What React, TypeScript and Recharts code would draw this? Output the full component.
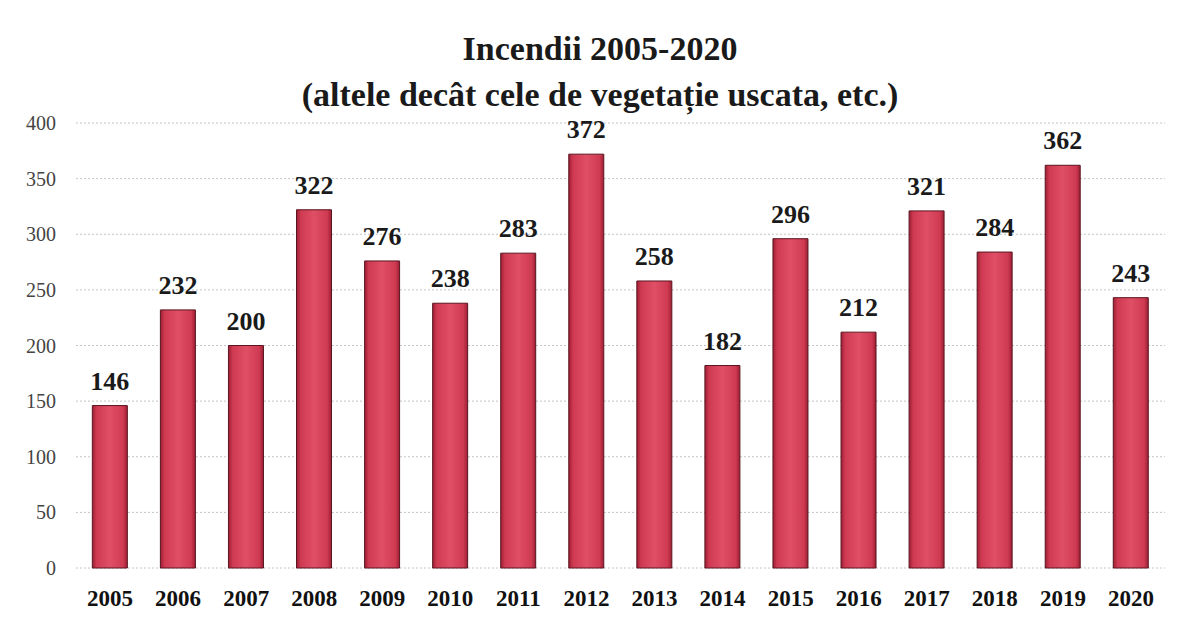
import { BarChart, Bar, XAxis, YAxis, CartesianGrid, LabelList } from 'recharts';

const years = ['2005', '2006', '2007', '2008', '2009', '2010', '2011', '2012', '2013', '2014', '2015', '2016', '2017', '2018', '2019', '2020'];
const fires = [146, 232, 200, 322, 276, 238, 283, 372, 258, 182, 296, 212, 321, 284, 362, 243];
const yTicks = [0, 50, 100, 150, 200, 250, 300, 350, 400];

const data = years.map((y, i) => ({ year: y, value: fires[i] }));

const serif = '"Liberation Serif", "Times New Roman", serif';

export default function App() {
  return (
    <div style={{ position: 'absolute', left: 0, top: 0, width: 1177, height: 623, background: '#fff', fontFamily: serif }}>
      <div
        style={{
          position: 'absolute',
          left: 0,
          width: 1200,
          top: 26,
          textAlign: 'center',
          fontWeight: 'bold',
          fontSize: 34,
          lineHeight: '46px',
          color: '#1a1a1a',
        }}
      >
        <div>Incendii 2005-2020</div>
        <div>(altele decât cele de vegetație uscata, etc.)</div>
      </div>
      <BarChart
        width={1177}
        height={623}
        data={data}
        margin={{ top: 123, right: 12, left: 0, bottom: 0 }}
        barCategoryGap="24%"
      >
        <defs>
          <linearGradient id="barFill" x1="0" y1="0" x2="1" y2="0">
            <stop offset="0%" stopColor="#9c1f33" />
            <stop offset="12%" stopColor="#cf3a52" />
            <stop offset="50%" stopColor="#df4f66" />
            <stop offset="88%" stopColor="#cf3a52" />
            <stop offset="100%" stopColor="#9c1f33" />
          </linearGradient>
        </defs>
        <CartesianGrid vertical={false} stroke="#c4c4c4" strokeDasharray="2 2" />
        <XAxis
          dataKey="year"
          axisLine={false}
          tickLine={false}
          height={55}
          tick={{ fontSize: 23, fontWeight: 'bold', fill: '#111', fontFamily: serif, dy: 14 }}
          interval={0}
        />
        <YAxis
          domain={[0, 400]}
          ticks={yTicks}
          axisLine={false}
          tickLine={false}
          width={76}
          tick={{ fontSize: 20, fill: '#444', fontFamily: serif, dx: -12 }}
        />
        <Bar dataKey="value" fill="url(#barFill)" stroke="#5a1520" strokeWidth={1} isAnimationActive={false}>
          <LabelList
            dataKey="value"
            position="top"
            offset={16}
            style={{ fontSize: 26, fontWeight: 'bold', fill: '#1a1a1a', fontFamily: serif }}
          />
        </Bar>
      </BarChart>
    </div>
  );
}
